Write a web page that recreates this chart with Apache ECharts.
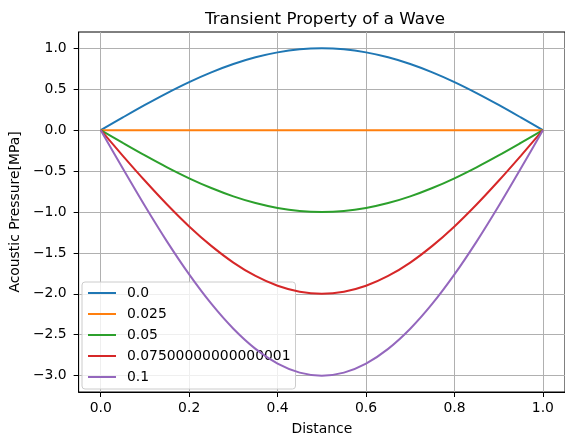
<!DOCTYPE html>
<html>
<head>
<meta charset="utf-8">
<style>
  html, body { margin: 0; padding: 0; background: #fff; }
  #chart { width: 565px; height: 441px; }
</style>
<script src="https://cdn.jsdelivr.net/npm/echarts@6/dist/echarts.min.js"></script>
</head>
<body>
<div id="chart"></div>
<script>
// distance samples along the wave
const distance = [0, 0.05, 0.1, 0.15, 0.2, 0.25, 0.3, 0.35, 0.4, 0.45, 0.5,
  0.55, 0.6, 0.65, 0.7, 0.75, 0.8, 0.85, 0.9, 0.95, 1.0];

// pressure, one array per time step
const p0 = [0, 0.156, 0.309, 0.454, 0.588, 0.707, 0.809, 0.891, 0.951, 0.988, 1.0,
  0.988, 0.951, 0.891, 0.809, 0.707, 0.588, 0.454, 0.309, 0.156, 0];
const p025 = [0, 0, 0, 0, 0, 0, 0, 0, 0, 0, 0, 0, 0, 0, 0, 0, 0, 0, 0, 0, 0];
const p05 = [0, -0.156, -0.309, -0.454, -0.588, -0.707, -0.809, -0.891, -0.951, -0.988, -1.0,
  -0.988, -0.951, -0.891, -0.809, -0.707, -0.588, -0.454, -0.309, -0.156, 0];
const p075 = [0, -0.313, -0.618, -0.908, -1.176, -1.414, -1.618, -1.782, -1.902, -1.975, -2.0,
  -1.975, -1.902, -1.782, -1.618, -1.414, -1.176, -0.908, -0.618, -0.313, 0];
const p1 = [0, -0.469, -0.927, -1.362, -1.763, -2.121, -2.427, -2.673, -2.853, -2.963, -3.0,
  -2.963, -2.853, -2.673, -2.427, -2.121, -1.763, -1.362, -0.927, -0.469, 0];

const seriesNames = ['0.0', '0.025', '0.05', '0.07500000000000001', '0.1'];
const seriesValues = [p0, p025, p05, p075, p1];

const xTicks = [0, 0.2, 0.4, 0.6, 0.8, 1.0];
const yTicks = [-3.0, -2.5, -2.0, -1.5, -1.0, -0.5, 0, 0.5, 1.0];

const palette = ['#1f77b4', '#ff7f0e', '#2ca02c', '#d62728', '#9467bd'];
const FONT = 'DejaVu Sans';
const gridLine = { show: true, lineStyle: { color: '#b0b0b0', width: 1 } };
const fmt = v => v.toFixed(1).replace('-', '\u2212');

const chart = echarts.init(document.getElementById('chart'));

chart.setOption({
  animation: false,
  color: palette,
  textStyle: { fontFamily: FONT },
  title: {
    text: 'Transient Property of a Wave',
    left: 320, top: 6, textAlign: 'center',
    textStyle: { fontFamily: FONT, fontSize: 16.7, fontWeight: 'normal', color: '#000' }
  },
  grid: {
    left: 76, top: 32, width: 489, height: 364,
    show: true, borderColor: '#000', borderWidth: 1, backgroundColor: 'transparent'
  },
  legend: {
    data: seriesNames,
    orient: 'vertical',
    left: 82, top: 282,
    padding: [4, 5, 5, 6],
    icon: 'rect',
    itemWidth: 28, itemHeight: 2, itemGap: 7,
    backgroundColor: 'rgba(255,255,255,0.8)',
    borderColor: '#cccccc', borderWidth: 1, borderRadius: 3,
    textStyle: { fontFamily: FONT, fontSize: 13.9, lineHeight: 14, color: '#000', padding: [0, 0, 0, 6] }
  },
  xAxis: {
    type: 'value', min: -0.05, max: 1.05,
    name: 'Distance', nameLocation: 'middle', nameGap: 30,
    nameTextStyle: { fontFamily: FONT, fontSize: 13.9, color: '#000' },
    axisLine: { show: true, onZero: false, lineStyle: { color: '#000', width: 1 } },
    axisTick: { show: true, length: 5, lineStyle: { color: '#000' }, customValues: xTicks },
    axisLabel: { fontFamily: FONT, fontSize: 13.9, color: '#000', margin: 9, formatter: fmt, customValues: xTicks },
    splitLine: gridLine
  },
  yAxis: {
    type: 'value', min: -3.2, max: 1.2,
    name: 'Acoustic Pressure[MPa]', nameLocation: 'middle', nameGap: 46, nameRotate: 90,
    nameTextStyle: { fontFamily: FONT, fontSize: 13.9, color: '#000' },
    axisLine: { show: true, onZero: false, lineStyle: { color: '#000', width: 1 } },
    axisTick: { show: true, length: 5, lineStyle: { color: '#000' }, customValues: yTicks },
    axisLabel: { fontFamily: FONT, fontSize: 13.9, color: '#000', margin: 12, formatter: fmt, customValues: yTicks },
    splitLine: gridLine
  },
  series: seriesNames.map((name, i) => ({
    name,
    type: 'line',
    data: distance.map((x, j) => [x, seriesValues[i][j]]),
    smooth: 0.3,
    symbol: 'none',
    lineStyle: { width: 2 },
    z: 2 + i
  }))
});
</script>
</body>
</html>
